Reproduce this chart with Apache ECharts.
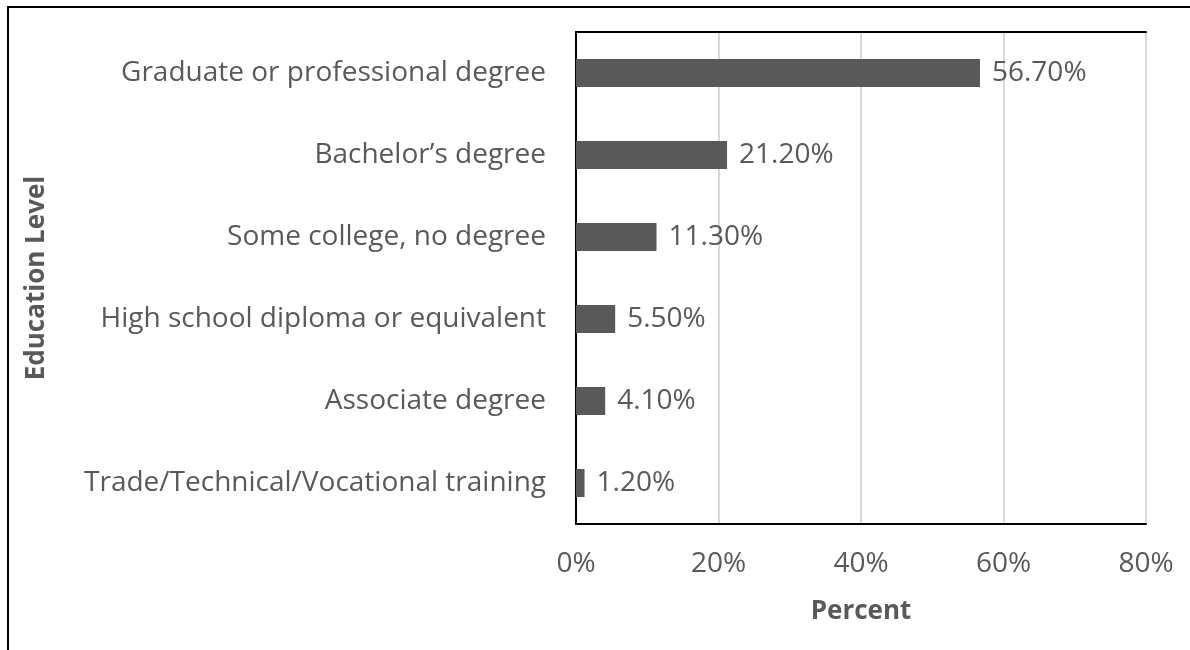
<!DOCTYPE html>
<html>
<head>
<meta charset="utf-8">
<script src="https://cdn.jsdelivr.net/npm/echarts@6/dist/echarts.min.js"></script>
<style>
  html, body { margin: 0; padding: 0; background: #fff; }
  #chart { width: 1190px; height: 650px; }
  #frame { position: absolute; left: 7px; top: 6px; width: 1190px; height: 650px;
           border-left: 2px solid #000; border-top: 2px solid #000; pointer-events: none; }
</style>
</head>
<body>
<div id="chart"></div>
<div id="frame"></div>
<script>
const categories = [
  'Graduate or professional degree',
  'Bachelor\u2019s degree',
  'Some college, no degree',
  'High school diploma or equivalent',
  'Associate degree',
  'Trade/Technical/Vocational training'
];
const percents = [56.7, 21.2, 11.3, 5.5, 4.1, 1.2];
const xTicks = [0, 20, 40, 60, 80];

const font = '"Open Sans", sans-serif';
const textColor = '#595959';

const chart = echarts.init(document.getElementById('chart'));
chart.setOption({
  animation: false,
  textStyle: { fontFamily: font },
  grid: { left: 576, right: 44, top: 32, bottom: 126 },
  xAxis: [{
    type: 'value',
    min: xTicks[0],
    max: xTicks[xTicks.length - 1],
    interval: 20,
    name: 'Percent',
    nameLocation: 'middle',
    nameGap: 75,
    nameTextStyle: { fontFamily: font, fontSize: 26, fontWeight: 'bold', color: textColor },
    axisLine: { show: true, lineStyle: { color: '#000', width: 2 } },
    axisTick: { show: false },
    axisLabel: { margin: 26, fontSize: 28, color: textColor, formatter: v => v + '%' },
    splitLine: { show: true, lineStyle: { color: '#d9d9d9', width: 2 } }
  }, {
    type: 'value',
    position: 'top',
    min: 0, max: 80, interval: 20,
    axisLine: { show: true, lineStyle: { color: '#000', width: 2 } },
    axisTick: { show: false },
    axisLabel: { show: false },
    splitLine: { show: false }
  }],
  yAxis: [{
    type: 'category',
    data: categories,
    inverse: true,
    name: 'Education Level',
    nameLocation: 'middle',
    nameGap: 526,
    nameTextStyle: { fontFamily: font, fontSize: 26, fontWeight: 'bold', color: textColor },
    axisLine: { show: false },
    axisTick: { show: false },
    axisLabel: { margin: 30, fontSize: 28, color: textColor }
  }, {
    type: 'category',
    position: 'right',
    data: categories,
    inverse: true,
    axisLine: { show: true, lineStyle: { color: '#000', width: 2 } },
    axisTick: { show: false },
    axisLabel: { show: false }
  }],
  series: [{
    type: 'bar',
    data: percents,
    barWidth: 28,
    itemStyle: { color: '#595959' },
    label: {
      show: true,
      position: 'right',
      distance: 12,
      fontSize: 28,
      color: textColor,
      formatter: p => p.value.toFixed(2) + '%'
    }
  }]
});
</script>
</body>
</html>
